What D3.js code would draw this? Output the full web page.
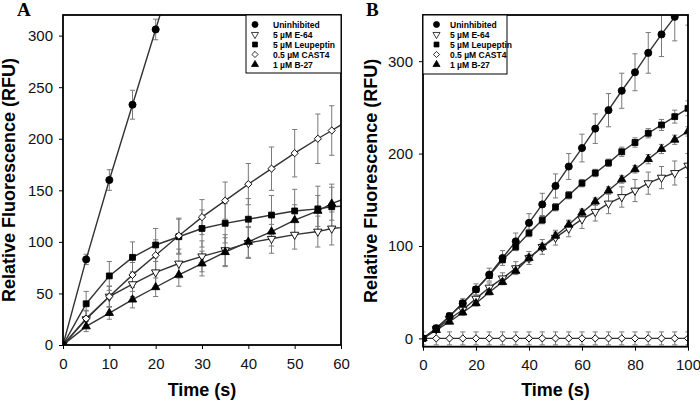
<!DOCTYPE html>
<html>
<head>
<meta charset="utf-8">
<script src="https://cdn.jsdelivr.net/npm/d3@7/dist/d3.min.js"></script>
<style>
  body { margin: 0; background: #fff; }
  svg text { font-family: "Liberation Sans", Arial, sans-serif; }
</style>
</head>
<body>
<svg id="chart" width="700" height="404"></svg>
<script>
// Panel A data (time in s, fluorescence in RFU); last point sits past the axis end
const timeA = [0, 5, 10, 15, 20, 25, 30, 35, 40, 45, 50, 55, 58, 65];
const uninhA = [0, 83, 160, 233, 306, 380];
const uninhAErr = [5, 5, 10, 14, 10, 12];
const e64A = [0, 25, 47, 59, 70.5, 79, 86, 92, 99, 103, 107, 110, 113, 116];
const e64AErr = [4, 8, 10, 12, 14, 14, 15, 15, 15, 14, 14, 15, 16, 16];
const leupA = [0, 40, 67, 85, 97, 105, 113, 118, 122, 126, 130, 132, 134, 136];
const leupAErr = [4, 12, 14, 15, 16, 17, 18, 19, 20, 19, 21, 22, 22, 22];
const castA = [0, 25.6, 47, 68, 87, 106, 124, 140, 156, 171, 186, 200, 208, 227];
const castAErr = [4, 8, 10, 12, 15, 17, 17, 18, 20, 21, 23, 24, 24, 25];
const b27A = [0, 18, 31, 44, 56, 68, 79, 90, 100, 110, 121, 130, 137, 150];
const b27AErr = [4, 5, 6, 8, 9, 11, 12, 14, 15, 14, 15, 15, 16, 16];

// Panel B data
const timeB = [0, 5, 10, 15, 20, 25, 30, 35, 40, 45, 50, 55, 60, 65, 70, 75, 80, 85, 90, 95, 100];
const uninhB = [0, 11, 24, 38, 53, 69, 87, 105, 125, 145, 165, 186, 206, 227, 247, 268, 288, 309, 329, 348, 367];
const uninhBErr = [2, 3, 4, 5, 6, 7, 8, 9, 10, 12, 13, 14, 15, 16, 18, 19, 20, 22, 24, 26, 28];
const e64B = [0, 10, 21, 31, 43, 55, 65, 76, 87, 99, 109, 119, 129, 137, 146, 153, 160, 168, 174, 179, 187];
const e64BErr = [2, 3, 3, 4, 4, 5, 6, 7, 7, 8, 8, 9, 10, 10, 11, 11, 12, 12, 12, 13, 13];
const leupB = [0, 11, 24, 38, 53, 68, 85, 99, 114, 128, 142, 155, 168, 179, 190, 202, 212, 222, 231, 240, 249];
const leupBErr = [2, 2, 2, 3, 3, 3, 3, 4, 4, 4, 4, 4, 4, 4, 4, 5, 5, 5, 6, 7, 8];
const castB = [0, 0, 0, 0, 0, 0, 0, 0, 0, 0, 0, 0, 0, 0, 0, 0, 0, 0, 0, 0, 0];
const castBErr = [7, 7, 7, 7, 7, 7, 7, 7, 7, 7, 7, 7, 7, 7, 7, 7, 7, 7, 7, 7, 7];
const b27B = [0, 9, 18, 28, 38, 50, 61, 73, 87, 99, 111, 123, 136, 148, 160, 172, 183, 194, 205, 215, 224];
const b27BErr = [2, 2, 2, 3, 3, 3, 3, 3, 4, 4, 4, 4, 4, 4, 4, 4, 4, 5, 5, 5, 5];

const legendLabels = ["Uninhibited", "5 \u00b5M E-64", "5 \u00b5M Leupeptin", "0.5 \u00b5M CAST4", "1 \u00b5M B-27"];
const symbolKeys = ["circle", "down", "square", "diamond", "up"];

const svg = d3.select("#chart");

// marker shapes
function markerPath(key) {
    if (key == "circle") return d3.symbol(d3.symbolCircle, 40)();
    if (key == "square") return d3.symbol(d3.symbolSquare, 34)();
    if (key == "diamond") return d3.symbol(d3.symbolSquare, 26)();
    return d3.symbol(d3.symbolTriangle, 30)();
}
function markerRot(key) {
    if (key == "down") return 180;
    if (key == "diamond") return 45;
    return 0;
}
function markerFill(key) {
    return (key == "down" || key == "diamond") ? "#fff" : "#000";
}

function drawPanel(p) {
    let g = svg.append("g");
    let x = d3.scaleLinear().domain(p.xDomain).range(p.xRange);
    let y = d3.scaleLinear().domain(p.yDomain).range(p.yRange);

    let clipId = "clip-" + p.name;
    svg.append("clipPath").attr("id", clipId)
        .append("rect")
        .attr("x", p.xRange[0]).attr("y", p.yRange[1])
        .attr("width", p.xRange[1] - p.xRange[0])
        .attr("height", p.yRange[0] - p.yRange[1]);

    // axes
    let xAxis = g.append("g")
        .attr("transform", `translate(0, ${p.yRange[0]})`)
        .call(d3.axisBottom(x).tickValues(p.xTicks).tickSize(4).tickSizeOuter(0).tickPadding(9));
    let yAxis = g.append("g")
        .attr("transform", `translate(${p.xRange[0]}, 0)`)
        .call(d3.axisLeft(y).tickValues(p.yTicks).tickSize(4).tickSizeOuter(0).tickPadding(6));
    [xAxis, yAxis].forEach(function(a) {
        a.select(".domain").remove();
        a.selectAll("line").attr("stroke", "#000").attr("stroke-width", 1);
        a.selectAll("text").style("font-size", "15px").attr("fill", "#111")
            .style("font-family", "'Liberation Sans', Arial, sans-serif");
    });

    let plot = g.append("g").attr("clip-path", `url(#${clipId})`);

    // error bars
    p.series.forEach(function(s) {
        let pts = s.values.map(function(v, i) { return {t: p.times[i], v: v, e: s.err[i]}; });
        let eb = plot.append("g").attr("stroke", "#7a7a7a").attr("stroke-width", 1);
        pts.forEach(function(d) {
            let cx = x(d.t), y1 = y(d.v + d.e), y2 = y(d.v - d.e);
            eb.append("line").attr("x1", cx).attr("x2", cx).attr("y1", y1).attr("y2", y2);
            eb.append("line").attr("x1", cx - 2.6).attr("x2", cx + 2.6).attr("y1", y1).attr("y2", y1);
            eb.append("line").attr("x1", cx - 2.6).attr("x2", cx + 2.6).attr("y1", y2).attr("y2", y2);
        });
    });

    // lines and markers
    p.series.forEach(function(s) {
        let pts = s.values.map(function(v, i) { return {t: p.times[i], v: v}; });
        let line = d3.line().x(function(d) { return x(d.t); }).y(function(d) { return y(d.v); });
        plot.append("path").datum(pts)
            .attr("d", line)
            .attr("fill", "none")
            .attr("stroke", "#333")
            .attr("stroke-width", 1.4);
    });
    p.series.forEach(function(s) {
        let pts = s.values.map(function(v, i) { return {t: p.times[i], v: v}; });
        plot.selectAll(null).data(pts).enter()
            .append("path")
            .attr("d", markerPath(s.key))
            .attr("transform", function(d) { return `translate(${x(d.t)}, ${y(d.v)}) rotate(${markerRot(s.key)})`; })
            .attr("fill", markerFill(s.key))
            .attr("stroke", "#000")
            .attr("stroke-width", 0.9);
    });

    // frame
    g.append("rect")
        .attr("x", p.xRange[0]).attr("y", p.yRange[1])
        .attr("width", p.xRange[1] - p.xRange[0])
        .attr("height", p.yRange[0] - p.yRange[1])
        .attr("fill", "none").attr("stroke", "#000").attr("stroke-width", 1.8);

    // legend
    let lg = g.append("g");
    lg.append("rect")
        .attr("x", p.legend.x).attr("y", p.legend.y)
        .attr("width", p.legend.w).attr("height", p.legend.h)
        .attr("fill", "#fff").attr("stroke", "#000").attr("stroke-width", 1);
    legendLabels.forEach(function(label, i) {
        let ry = p.legend.y + 9.5 + i * 10;
        let key = symbolKeys[i];
        lg.append("path")
            .attr("d", markerPath(key))
            .attr("transform", `translate(${p.legend.x + p.legend.sym}, ${ry}) rotate(${markerRot(key)}) scale(0.85)`)
            .attr("fill", markerFill(key))
            .attr("stroke", "#000").attr("stroke-width", 0.9);
        lg.append("text")
            .attr("x", p.legend.x + p.legend.txt)
            .attr("y", ry + 3)
            .style("font-size", "8.5px")
            .style("font-weight", "bold")
            .text(label);
    });

    // axis titles
    g.append("text")
        .attr("x", (p.xRange[0] + p.xRange[1]) / 2)
        .attr("y", p.xTitleY)
        .style("text-anchor", "middle")
        .style("font-size", "18px")
        .style("font-weight", "bold")
        .text("Time (s)");
    g.append("text")
        .attr("transform", `translate(${p.yTitleX}, ${(p.yRange[0] + p.yRange[1]) / 2}) rotate(-90)`)
        .style("text-anchor", "middle")
        .style("font-size", "18px")
        .style("font-weight", "bold")
        .text("Relative Fluorescence (RFU)");

    // panel letter
    g.append("text")
        .attr("x", p.letterX).attr("y", 16)
        .style("font-family", "'Liberation Serif', 'Times New Roman', serif")
        .style("font-size", "19px")
        .style("font-weight", "bold")
        .text(p.name);
}

drawPanel({
    name: "A",
    xDomain: [0, 60], xRange: [63, 341],
    yDomain: [0, 320], yRange: [345, 15],
    xTicks: [0, 10, 20, 30, 40, 50, 60],
    yTicks: [0, 50, 100, 150, 200, 250, 300],
    times: timeA,
    series: [
        {key: "circle", values: uninhA, err: uninhAErr},
        {key: "down", values: e64A, err: e64AErr},
        {key: "square", values: leupA, err: leupAErr},
        {key: "diamond", values: castA, err: castAErr},
        {key: "up", values: b27A, err: b27AErr}
    ],
    legend: {x: 246, y: 15, w: 95, h: 58, sym: 9, txt: 27},
    xTitleY: 396, yTitleX: 15, letterX: 17
});

drawPanel({
    name: "B",
    xDomain: [0, 100], xRange: [423, 688],
    yDomain: [-9, 350], yRange: [346.7, 15],
    xTicks: [0, 20, 40, 60, 80, 100],
    yTicks: [0, 100, 200, 300],
    times: timeB,
    series: [
        {key: "circle", values: uninhB, err: uninhBErr},
        {key: "down", values: e64B, err: e64BErr},
        {key: "square", values: leupB, err: leupBErr},
        {key: "diamond", values: castB, err: castBErr},
        {key: "up", values: b27B, err: b27BErr}
    ],
    legend: {x: 423, y: 15, w: 84, h: 59, sym: 13.5, txt: 27},
    xTitleY: 396, yTitleX: 377, letterX: 366
});
</script>
</body>
</html>
